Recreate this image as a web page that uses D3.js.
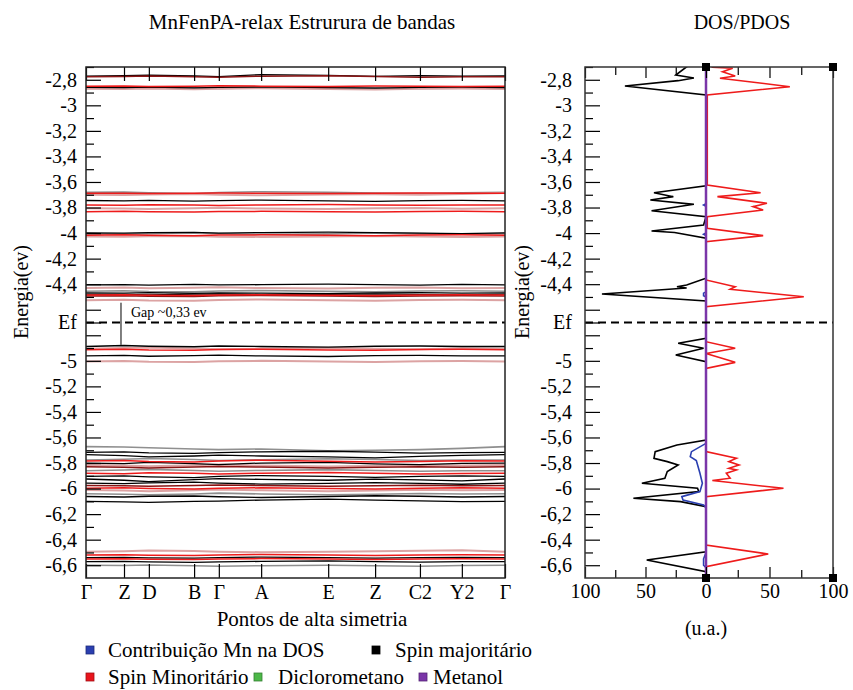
<!DOCTYPE html>
<html><head><meta charset="utf-8">
<script src="https://cdn.jsdelivr.net/npm/d3@7"></script>
<style>
body{margin:0;background:#fff}
svg{display:block;font-family:"Liberation Serif","Times New Roman",serif}
</style>
</head><body><svg id="chart" width="853" height="690"></svg>
<script>
// ---- high-symmetry path of the Brillouin zone ----
const kLabels = ["Γ","Z","D","B","Γ","A","E","Z","C2","Y2","Γ"];
const kPath   = [0, 0.0907, 0.150, 0.258, 0.317, 0.418, 0.578, 0.690, 0.797, 0.897, 1.0];

// ---- band energies (eV) at each high-symmetry point ----
const bandsSpinUp = [
  [-2.772,-2.768,-2.763,-2.770,-2.776,-2.760,-2.766,-2.774,-2.768,-2.772,-2.770],
  [-2.860,-2.862,-2.858,-2.864,-2.860,-2.856,-2.862,-2.866,-2.860,-2.858,-2.862],
  [-3.745,-3.748,-3.744,-3.750,-3.746,-3.742,-3.748,-3.752,-3.746,-3.744,-3.748],
  [-3.998,-4.000,-3.996,-3.994,-4.000,-3.996,-3.993,-3.996,-4.000,-4.004,-3.998],
  [-4.406,-4.404,-4.408,-4.402,-4.406,-4.404,-4.400,-4.404,-4.408,-4.402,-4.406],
  [-4.468,-4.470,-4.466,-4.472,-4.468,-4.470,-4.474,-4.468,-4.466,-4.470,-4.468],
  [-4.478,-4.480,-4.484,-4.478,-4.476,-4.482,-4.480,-4.476,-4.480,-4.484,-4.478],
  [-4.888,-4.880,-4.886,-4.890,-4.884,-4.888,-4.892,-4.886,-4.884,-4.888,-4.888],
  [-4.962,-4.958,-4.964,-4.960,-4.956,-4.962,-4.966,-4.960,-4.958,-4.962,-4.962],
  [-5.716,-5.712,-5.720,-5.725,-5.718,-5.712,-5.708,-5.714,-5.722,-5.718,-5.716],
  [-5.735,-5.742,-5.752,-5.745,-5.738,-5.745,-5.752,-5.760,-5.748,-5.740,-5.735],
  [-5.800,-5.805,-5.795,-5.805,-5.812,-5.800,-5.795,-5.806,-5.812,-5.802,-5.800],
  [-5.905,-5.900,-5.908,-5.915,-5.905,-5.898,-5.905,-5.912,-5.904,-5.900,-5.905],
  [-5.925,-5.935,-5.945,-5.930,-5.922,-5.928,-5.935,-5.926,-5.932,-5.940,-5.925],
  [-5.958,-5.962,-5.955,-5.950,-5.958,-5.965,-5.960,-5.954,-5.960,-5.966,-5.958],
  [-6.062,-6.066,-6.060,-6.058,-6.064,-6.070,-6.062,-6.056,-6.060,-6.066,-6.062],
  [-6.100,-6.104,-6.108,-6.100,-6.098,-6.090,-6.082,-6.090,-6.096,-6.102,-6.100],
  [-6.540,-6.538,-6.542,-6.544,-6.540,-6.536,-6.540,-6.544,-6.540,-6.538,-6.540],
  [-6.572,-6.570,-6.574,-6.578,-6.574,-6.570,-6.566,-6.572,-6.576,-6.572,-6.572]
];
const bandsSpinDown = [
  [-2.850,-2.848,-2.852,-2.850,-2.846,-2.850,-2.852,-2.848,-2.850,-2.852,-2.850],
  [-3.688,-3.688,-3.690,-3.688,-3.686,-3.688,-3.690,-3.688,-3.686,-3.688,-3.688],
  [-3.780,-3.782,-3.778,-3.780,-3.784,-3.780,-3.776,-3.780,-3.782,-3.780,-3.780],
  [-3.833,-3.830,-3.834,-3.836,-3.832,-3.830,-3.834,-3.836,-3.832,-3.830,-3.833],
  [-4.017,-4.014,-4.018,-4.020,-4.016,-4.014,-4.018,-4.020,-4.016,-4.014,-4.017],
  [-4.485,-4.482,-4.486,-4.488,-4.484,-4.482,-4.486,-4.488,-4.484,-4.482,-4.485],
  [-4.914,-4.910,-4.916,-4.918,-4.912,-4.910,-4.916,-4.918,-4.912,-4.910,-4.914],
  [-5.785,-5.780,-5.788,-5.792,-5.784,-5.778,-5.786,-5.792,-5.788,-5.782,-5.785],
  [-5.880,-5.884,-5.876,-5.880,-5.886,-5.880,-5.874,-5.880,-5.886,-5.882,-5.880],
  [-5.998,-5.994,-6.000,-6.004,-5.998,-5.994,-6.000,-6.004,-5.998,-5.994,-5.998],
  [-6.520,-6.518,-6.522,-6.524,-6.520,-6.516,-6.520,-6.524,-6.520,-6.518,-6.520],
  [-6.552,-6.550,-6.554,-6.556,-6.552,-6.548,-6.552,-6.556,-6.552,-6.550,-6.552]
];
const bandsMixedPink = [
  [-2.870,-2.872,-2.868,-2.874,-2.870,-2.866,-2.872,-2.876,-2.870,-2.868,-2.872],
  [-3.700,-3.702,-3.698,-3.694,-3.700,-3.704,-3.698,-3.696,-3.700,-3.694,-3.686],
  [-3.805,-3.808,-3.812,-3.806,-3.802,-3.808,-3.812,-3.806,-3.804,-3.810,-3.805],
  [-4.026,-4.028,-4.024,-4.022,-4.028,-4.030,-4.026,-4.022,-4.026,-4.030,-4.026],
  [-4.430,-4.426,-4.432,-4.428,-4.424,-4.430,-4.434,-4.428,-4.426,-4.432,-4.430],
  [-4.525,-4.522,-4.528,-4.530,-4.524,-4.520,-4.526,-4.530,-4.524,-4.522,-4.525],
  [-4.906,-4.900,-4.896,-4.904,-4.910,-4.904,-4.898,-4.906,-4.910,-4.902,-4.906],
  [-5.006,-5.002,-5.008,-5.010,-5.004,-5.000,-5.006,-5.010,-5.004,-5.002,-5.006],
  [-5.815,-5.820,-5.826,-5.818,-5.812,-5.820,-5.828,-5.822,-5.816,-5.820,-5.815],
  [-6.012,-6.016,-6.020,-6.014,-6.008,-6.014,-6.020,-6.016,-6.010,-6.014,-6.012],
  [-6.494,-6.490,-6.484,-6.488,-6.494,-6.498,-6.494,-6.490,-6.486,-6.482,-6.494]
];
const bandsMixedGray = [
  [-2.866,-2.860,-2.856,-2.862,-2.868,-2.864,-2.858,-2.862,-2.868,-2.866,-2.866],
  [-3.680,-3.678,-3.684,-3.690,-3.682,-3.676,-3.680,-3.686,-3.690,-3.684,-3.680],
  [-4.004,-4.008,-4.004,-3.998,-4.004,-4.010,-4.006,-4.000,-4.004,-4.008,-4.004],
  [-4.455,-4.452,-4.458,-4.460,-4.454,-4.450,-4.456,-4.460,-4.454,-4.452,-4.455],
  [-5.672,-5.675,-5.680,-5.690,-5.695,-5.690,-5.705,-5.700,-5.695,-5.685,-5.672],
  [-5.776,-5.770,-5.764,-5.772,-5.780,-5.774,-5.766,-5.772,-5.780,-5.776,-5.776],
  [-5.860,-5.855,-5.850,-5.858,-5.864,-5.858,-5.852,-5.858,-5.864,-5.860,-5.860],
  [-6.040,-6.044,-6.048,-6.042,-6.036,-6.042,-6.048,-6.044,-6.038,-6.042,-6.040],
  [-6.600,-6.602,-6.598,-6.604,-6.608,-6.604,-6.600,-6.604,-6.608,-6.602,-6.600]
];
const bandsMixedDark = [
  [-2.776,-2.774,-2.770,-2.776,-2.780,-2.772,-2.768,-2.774,-2.780,-2.776,-2.776],
  [-4.492,-4.490,-4.494,-4.496,-4.490,-4.488,-4.492,-4.496,-4.492,-4.490,-4.492],
  [-5.830,-5.834,-5.838,-5.832,-5.828,-5.832,-5.838,-5.834,-5.830,-5.834,-5.830],
  [-5.975,-5.978,-5.982,-5.976,-5.972,-5.976,-5.982,-5.978,-5.974,-5.978,-5.975]
];

// ---- Fermi level and gap ----
const fermiLevel = -4.7;
const gapTop = -4.545;
const gapSize = 0.33;
const gapMarkerK = 0.0835;

// ---- density of states: [energy (eV), states (u.a.)] ----
const dosSpinMajority = [
  [-2.690,14],[-2.698,16],[-2.763,25],[-2.786,10],[-2.807,23],[-2.849,67],[-2.919,0],
  [-3.630,0],[-3.684,43],[-3.715,27],[-3.741,46],[-3.775,10],[-3.825,45],[-3.872,0],
  [-3.937,2],[-3.984,45],[-3.995,26],[-4.040,0],
  [-4.354,0],[-4.406,16],[-4.420,24],[-4.430,16],[-4.477,86],[-4.532,0],
  [-4.824,0],[-4.863,23],[-4.902,2],[-4.954,25],[-5.007,0],
  [-5.620,0],[-5.659,24],[-5.711,42],[-5.763,43],[-5.789,32],[-5.815,23],[-5.867,32],
  [-5.919,34],[-5.958,53],[-5.998,7],[-6.024,6],[-6.076,60],[-6.102,21],[-6.142,0],
  [-6.494,0],[-6.559,49],[-6.651,0],[-6.700,0]
];
const dosSpinMinority = [
  [-2.690,4],[-2.702,5],[-2.710,21],[-2.737,13],[-2.770,23],[-2.788,11],[-2.854,66],[-2.919,1],
  [-3.624,1],[-3.684,43],[-3.715,9],[-3.767,48],[-3.793,37],[-3.819,45],[-3.872,1],
  [-3.963,1],[-4.020,45],[-4.067,0],
  [-4.367,0],[-4.420,23],[-4.440,19],[-4.498,77],[-4.576,0],
  [-4.850,0],[-4.902,23],[-4.942,0],[-5.012,23],[-5.059,0],
  [-5.711,0],[-5.763,24],[-5.789,18],[-5.815,26],[-5.841,18],[-5.854,24],[-5.880,16],
  [-5.919,19],[-5.937,5],[-5.998,61],[-6.063,0],
  [-6.442,0],[-6.512,49],[-6.612,0],[-6.700,0]
];
const dosMn = [
  [-2.690,0],[-3.770,0],[-3.780,2],[-3.790,0],[-4.000,0],[-4.010,2],[-4.020,0],
  [-4.460,0],[-4.470,2],[-4.490,2],[-4.500,0],
  [-5.646,0],[-5.711,12],[-5.750,13],[-5.780,8],[-5.880,5],[-5.958,3],[-6.024,5],
  [-6.063,20],[-6.090,19],[-6.129,2],[-6.150,0],[-6.500,0],[-6.550,2],[-6.600,2],[-6.620,0],[-6.700,0]
];
const dosDichloromethane = [[-2.690,1],[-2.720,1],[-2.730,0],[-6.700,0]];
const dosMethanol = [[-2.690,0],[-6.700,0]];
const dosCornerMarks = [[0,-2.7],[100,-2.7],[0,-6.7],[100,-6.7]];

// ---- axis ticks ----
const energyMajorTicks = [-2.8,-3,-3.2,-3.4,-3.6,-3.8,-4,-4.2,-4.4,-4.6,-4.7,-4.8,-5,-5.2,-5.4,-5.6,-5.8,-6,-6.2,-6.4,-6.6];
const energyMinorTicks = [-2.7,-2.9,-3.1,-3.3,-3.5,-3.7,-3.9,-4.1,-4.3,-4.5,-4.9,-5.1,-5.3,-5.5,-5.7,-5.9,-6.1,-6.3,-6.5];
const energyHiddenLabels = [-4.6,-4.8];
const dosMajorTicks = [-100,-50,0,50,100];
const dosMinorTicks = [-75,-25,25,75];

// ---- legend ----
const legendLabels = ["Contribuição Mn na DOS","Spin majoritário","Spin Minoritário","Diclorometano","Metanol"];
const legendColors = ["#2a3fb0","#000000","#e8141c","#4cb848","#7a35a8"];

// ================= drawing =================
const svg = d3.select("#chart");
const FONT = 20;
const C = {up:"#000", down:"#ee1b1b", pink:"#dca3a3", gray:"#8f8f8f", dark:"#8a1414",
           mn:"#2a3fb0", dcm:"#4cb848", meoh:"#7a35a8"};

const eScale = d3.scaleLinear().domain([-2.7,-6.7]).range([67,578]);
const kScale = d3.scaleLinear().domain([0,1]).range([86,505]);
const dScale = d3.scaleLinear().domain([-100,0,100]).range([585,706,833]);

const fmtE = v => {
  if (Math.abs(v - fermiLevel) < 1e-9) return "Ef";
  if (energyHiddenLabels.some(h => Math.abs(h - v) < 1e-9)) return "";
  return String(Math.round(v*10)/10).replace(".", ",");
};

svg.append("defs").html(
  `<clipPath id="clipBands"><rect x="86" y="67" width="419" height="511"/></clipPath>
   <clipPath id="clipDos"><rect x="585" y="67" width="248" height="511"/></clipPath>`);

// ----- band structure panel -----
const band = d3.line().x((d,i)=>kScale(kPath[i])).y(d=>eScale(d));
const gB = svg.append("g").attr("clip-path","url(#clipBands)");
function drawBands(data, color, w){
  gB.append("g").selectAll("path").data(data).join("path")
    .attr("d", band).attr("fill","none").attr("stroke",color).attr("stroke-width",w);
}
drawBands(bandsMixedGray, C.gray, 1.6);
drawBands(bandsMixedPink, C.pink, 2.0);
drawBands(bandsSpinUp, C.up, 1.3);
drawBands(bandsMixedDark, C.dark, 1.5);
drawBands(bandsSpinDown, C.down, 1.5);

// Fermi level
svg.append("line").attr("x1",kScale(0)).attr("x2",kScale(1))
  .attr("y1",eScale(fermiLevel)).attr("y2",eScale(fermiLevel))
  .attr("stroke","#000").attr("stroke-width",2).attr("stroke-dasharray","8,5");

// gap marker
svg.append("line").attr("x1",kScale(gapMarkerK)).attr("x2",kScale(gapMarkerK))
  .attr("y1",eScale(gapTop)).attr("y2",eScale(gapTop-gapSize))
  .attr("stroke","#000").attr("stroke-width",1);
svg.append("text").attr("x",kScale(gapMarkerK)+10).attr("y",eScale(gapTop)+14)
  .attr("font-size",14).text("Gap ~" + String(gapSize).replace(".", ",") + " ev");

function styleAxis(g){
  g.select(".domain").remove();
  g.selectAll("line").attr("stroke","#000").attr("stroke-width",1.2);
  g.selectAll("text").attr("font-family",'"Liberation Serif",serif').attr("font-size",FONT).attr("fill","#000");
}
// energy axis (band panel)
svg.append("g").attr("transform","translate(86,0)")
  .call(d3.axisLeft(eScale).tickValues(energyMajorTicks).tickSize(-15).tickPadding(9).tickFormat(fmtE))
  .call(styleAxis);
svg.append("g").attr("transform","translate(86,0)")
  .call(d3.axisLeft(eScale).tickValues(energyMinorTicks).tickSize(-8).tickFormat(""))
  .call(styleAxis);
// k-path axes
svg.append("g").attr("transform","translate(0,578)")
  .call(d3.axisBottom(kScale).tickValues(kPath).tickSize(-14).tickPadding(7).tickFormat((d,i)=>kLabels[i]))
  .call(styleAxis);
svg.append("g").attr("transform","translate(0,67)")
  .call(d3.axisTop(kScale).tickValues(kPath).tickSize(-14).tickFormat(""))
  .call(styleAxis);
svg.append("rect").attr("x",86).attr("y",67).attr("width",419).attr("height",511)
  .attr("fill","none").attr("stroke","#222").attr("stroke-width",1.5);

// ----- DOS panel -----
const gD = svg.append("g").attr("clip-path","url(#clipDos)");
const dosLeft  = d3.line().x(d=>dScale(-d[1])).y(d=>eScale(d[0]));
const dosRight = d3.line().x(d=>dScale(d[1])).y(d=>eScale(d[0]));
gD.append("path").datum(dosSpinMajority).attr("d",dosLeft).attr("fill","none").attr("stroke",C.up).attr("stroke-width",1.6);
gD.append("path").datum(dosSpinMinority).attr("d",dosRight).attr("fill","none").attr("stroke",C.down).attr("stroke-width",1.6);
gD.append("path").datum(dosMn).attr("d",dosLeft).attr("fill","none").attr("stroke",C.mn).attr("stroke-width",1.6);
gD.append("path").datum(dosDichloromethane).attr("d",dosRight).attr("fill","none").attr("stroke",C.dcm).attr("stroke-width",2);
gD.append("path").datum(dosMethanol).attr("d",dosRight).attr("fill","none").attr("stroke",C.meoh).attr("stroke-width",2.5);

svg.append("line").attr("x1",dScale(-100)).attr("x2",dScale(100))
  .attr("y1",eScale(fermiLevel)).attr("y2",eScale(fermiLevel))
  .attr("stroke","#000").attr("stroke-width",2).attr("stroke-dasharray","8,5");

svg.append("g").attr("transform","translate(585,0)")
  .call(d3.axisLeft(eScale).tickValues(energyMajorTicks).tickSize(-15).tickPadding(13).tickFormat(fmtE))
  .call(styleAxis);
svg.append("g").attr("transform","translate(585,0)")
  .call(d3.axisLeft(eScale).tickValues(energyMinorTicks).tickSize(-8).tickFormat(""))
  .call(styleAxis);
svg.append("g").attr("transform","translate(0,578)")
  .call(d3.axisBottom(dScale).tickValues(dosMajorTicks).tickSize(-11).tickPadding(6).tickFormat(d=>Math.abs(d)))
  .call(styleAxis);
svg.append("g").attr("transform","translate(0,578)")
  .call(d3.axisBottom(dScale).tickValues(dosMinorTicks).tickSize(-8).tickFormat(""))
  .call(styleAxis);
svg.append("g").attr("transform","translate(0,67)")
  .call(d3.axisTop(dScale).tickValues(dosMajorTicks).tickSize(-11).tickFormat(""))
  .call(styleAxis);
svg.append("g").attr("transform","translate(0,67)")
  .call(d3.axisTop(dScale).tickValues(dosMinorTicks).tickSize(-8).tickFormat(""))
  .call(styleAxis);
svg.append("rect").attr("x",585).attr("y",67).attr("width",248).attr("height",511)
  .attr("fill","none").attr("stroke","#333").attr("stroke-width",1.5);

svg.append("g").selectAll("rect").data(dosCornerMarks).join("rect")
  .attr("x",d=>dScale(d[0])-4).attr("y",d=>eScale(d[1])-4).attr("width",8).attr("height",8)
  .attr("fill","#000");

// ----- titles and axis names -----
svg.append("text").attr("x",302).attr("y",29).attr("text-anchor","middle").attr("font-size",21)
  .text("MnFenPA-relax Estrurura de bandas");
svg.append("text").attr("x",742).attr("y",29).attr("text-anchor","middle").attr("font-size",20)
  .text("DOS/PDOS");
svg.append("text").attr("transform","translate(28,292) rotate(-90)").attr("text-anchor","middle")
  .attr("font-size",FONT).text("Energia(ev)");
svg.append("text").attr("transform","translate(529,292) rotate(-90)").attr("text-anchor","middle")
  .attr("font-size",FONT).text("Energia(ev)");
svg.append("text").attr("x",312).attr("y",626).attr("text-anchor","middle")
  .attr("font-size",21).text("Pontos de alta simetria");
svg.append("text").attr("x",dScale(0)).attr("y",635).attr("text-anchor","middle")
  .attr("font-size",FONT).text("(u.a.)");

// ----- legend: two rows, square swatch then label -----
const legendLayout = [
  {sx:86,  tx:108, y:650},
  {sx:372, tx:395, y:650},
  {sx:86,  tx:108, y:677},
  {sx:254, tx:278, y:677},
  {sx:419, tx:433, y:677}
];
const lg = svg.append("g").selectAll("g").data(legendLabels).join("g");
lg.append("rect").attr("x",(d,i)=>legendLayout[i].sx).attr("y",(d,i)=>legendLayout[i].y-4)
  .attr("width",8).attr("height",8)
  .attr("fill",(d,i)=>legendColors[i]).attr("stroke",(d,i)=>d3.color(legendColors[i]).darker(1)).attr("stroke-width",0.8);
lg.append("text").attr("x",(d,i)=>legendLayout[i].tx).attr("y",(d,i)=>legendLayout[i].y+7)
  .attr("font-size",21).text(d=>d);
</script></body></html>
